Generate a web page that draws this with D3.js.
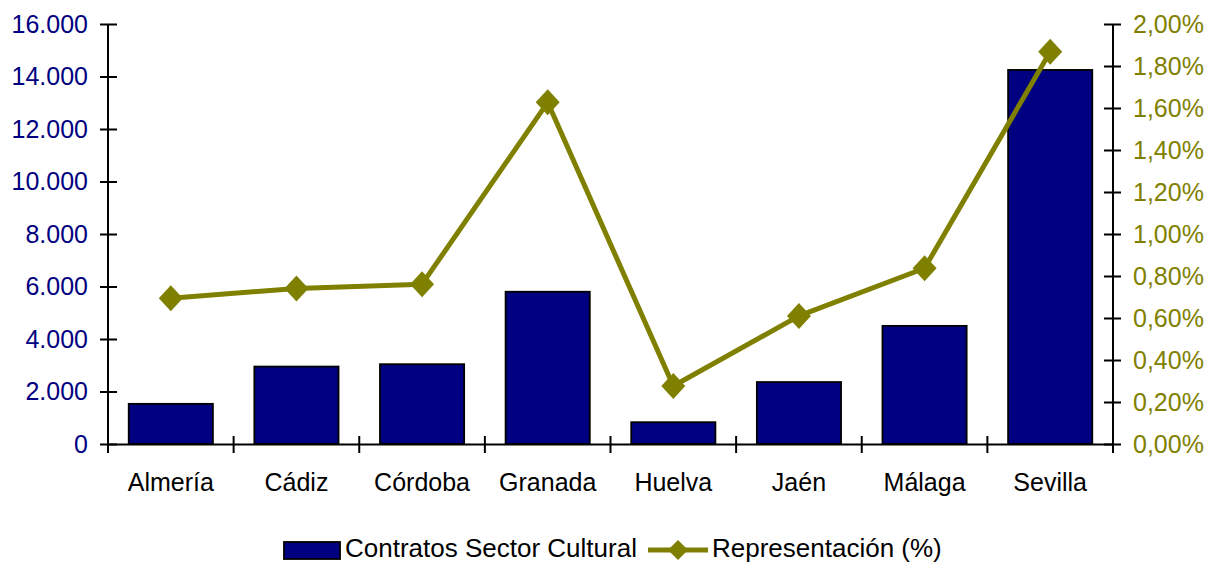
<!DOCTYPE html>
<html>
<head>
<meta charset="utf-8">
<script src="https://cdn.jsdelivr.net/npm/d3@7"></script>
<style>
  html, body { margin: 0; padding: 0; background: #fff; }
  svg { display: block; font-family: "Liberation Sans", Arial, sans-serif; }
</style>
</head>
<body>
<svg id="chart" width="1207" height="564"></svg>
<script>
const categories = ["Almería", "Cádiz", "Córdoba", "Granada", "Huelva", "Jaén", "Málaga", "Sevilla"];
const contratos = [1530, 2950, 3040, 5800, 830, 2360, 4500, 14250];
const representacion = [0.694, 0.741, 0.761, 1.627, 0.276, 0.610, 0.837, 1.868];
const leftTicks = [0, 2000, 4000, 6000, 8000, 10000, 12000, 14000, 16000];
const rightTicks = [0, 0.2, 0.4, 0.6, 0.8, 1.0, 1.2, 1.4, 1.6, 1.8, 2.0];
const seriesNames = ["Contratos Sector Cultural", "Representación (%)"];

(function () {
const NAVY = "#000080", OLIVE = "#808000";
const svg = d3.select("#chart");
const pL = 108, pR = 1113, pT = 24, pB = 444;
const fs = 25, lfs = 26;

const x = d3.scaleBand().domain(categories).range([pL, pR]).padding(0);
const yL = d3.scaleLinear().domain([0, 16000]).range([pB, pT]);
const yR = d3.scaleLinear().domain([0, 2]).range([pB, pT]);

const fmtL = v => v === 0 ? "0" : d3.format(",")(v).replace(/,/g, ".");
const fmtR = v => v.toFixed(2).replace(".", ",") + "%";

// Bars
const bw = x.bandwidth() * 0.67;
svg.append("g").selectAll("rect").data(contratos).join("rect")
  .attr("x", (d, i) => x(categories[i]) + (x.bandwidth() - bw) / 2)
  .attr("y", d => yL(d))
  .attr("width", bw)
  .attr("height", d => pB - yL(d))
  .attr("fill", NAVY).attr("stroke", "#000").attr("stroke-width", 1.8);

// Left axis
const gL = svg.append("g").attr("transform", `translate(${pL},0)`)
  .call(d3.axisLeft(yL).tickValues(leftTicks).tickFormat(fmtL).tickSize(8).tickSizeOuter(0));
gL.select(".domain").remove();
gL.selectAll(".tick line").attr("x1", 9).attr("x2", -8).attr("stroke", "#000").attr("stroke-width", 2);
gL.selectAll(".tick text").attr("x", -20).attr("fill", NAVY).style("font-size", fs + "px").attr("font-family", null);
svg.append("line").attr("x1", pL).attr("x2", pL).attr("y1", pT).attr("y2", pB + 9)
  .attr("stroke", "#000").attr("stroke-width", 2);

// Right axis
const gR = svg.append("g").attr("transform", `translate(${pR},0)`)
  .call(d3.axisRight(yR).tickValues(rightTicks).tickFormat(fmtR).tickSize(8).tickSizeOuter(0));
gR.select(".domain").remove();
gR.selectAll(".tick line").attr("x1", -9).attr("x2", 8).attr("stroke", "#000").attr("stroke-width", 2);
gR.selectAll(".tick text").attr("x", 20).attr("fill", OLIVE).style("font-size", fs + "px").attr("font-family", null);
svg.append("line").attr("x1", pR).attr("x2", pR).attr("y1", pT).attr("y2", pB + 9)
  .attr("stroke", "#000").attr("stroke-width", 2);

// X axis
const gX = svg.append("g").attr("transform", `translate(0,${pB})`)
  .call(d3.axisBottom(x).tickSize(0).tickSizeOuter(0));
gX.select(".domain").attr("stroke", "#000").attr("stroke-width", 2);
gX.selectAll(".tick text").attr("y", 29).attr("fill", "#000").style("font-size", fs + "px").attr("font-family", null);
const bounds = categories.slice(1).map(c => x(c));
gX.selectAll(".bt").data(bounds).join("line").attr("class", "bt")
  .attr("x1", d => d).attr("x2", d => d).attr("y1", -8).attr("y2", 9)
  .attr("stroke", "#000").attr("stroke-width", 2);

// Line
const cx = (d, i) => x(categories[i]) + x.bandwidth() / 2;
svg.append("path").datum(representacion)
  .attr("d", d3.line().x(cx).y(d => yR(d)))
  .attr("fill", "none").attr("stroke", OLIVE).attr("stroke-width", 5).attr("stroke-linejoin", "round");
const diamond = "M0,-13L12,0L0,13L-12,0Z";
svg.append("g").selectAll("path").data(representacion).join("path")
  .attr("d", diamond)
  .attr("transform", (d, i) => `translate(${cx(d, i)},${yR(d)})`)
  .attr("fill", OLIVE);

// Legend
const lg = svg.append("g");
lg.append("rect").attr("x", 284).attr("y", 542).attr("width", 56).attr("height", 17)
  .attr("fill", NAVY).attr("stroke", "#000").attr("stroke-width", 1.8);
lg.append("text").attr("x", 345).attr("y", 557).text(seriesNames[0])
  .attr("fill", "#000").style("font-size", lfs + "px");
lg.append("line").attr("x1", 648).attr("x2", 708).attr("y1", 550).attr("y2", 550)
  .attr("stroke", OLIVE).attr("stroke-width", 5);
lg.append("path").attr("d", "M0,-10L10,0L0,10L-10,0Z").attr("transform", "translate(678,550)").attr("fill", OLIVE);
lg.append("text").attr("x", 712).attr("y", 557).text(seriesNames[1])
  .attr("fill", "#000").style("font-size", lfs + "px");
})();
</script>
</body>
</html>
